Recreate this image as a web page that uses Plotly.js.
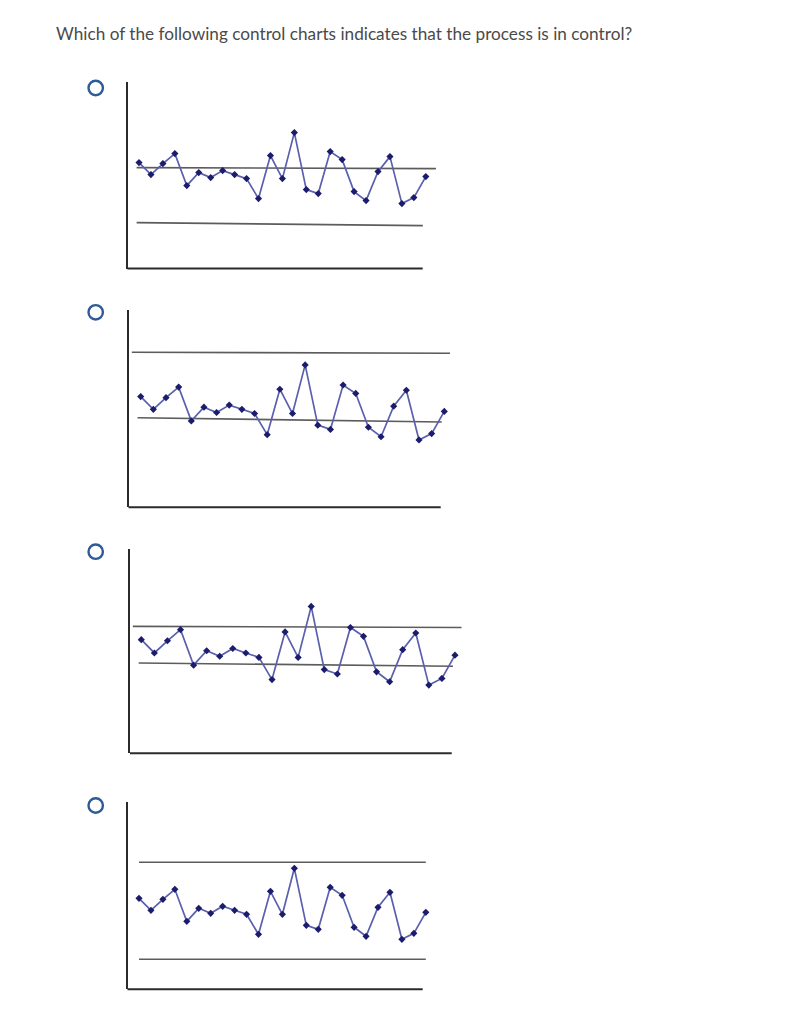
<!DOCTYPE html>
<html>
<head>
<meta charset="utf-8">
<script src="https://cdn.plot.ly/plotly-3.0.1.min.js"></script>
<style>
  html, body { margin: 0; padding: 0; background: #fff; }
  #plot { width: 806px; height: 1024px; }
</style>
</head>
<body>
<div id="plot"></div>
<script>
// question text
var questionText = 'Which of the following control charts indicates that the process is in control?';

// same sample series is used in all four charts
var samples = [1, 2, 3, 4, 5, 6, 7, 8, 9, 10, 11, 12, 13, 14, 15, 16, 17, 18, 19, 20, 21, 22, 23, 24, 25];
var values = [91, 79, 90, 100, 68, 81, 76, 83, 79, 75, 55, 98, 75, 121, 64, 60, 102, 94, 62, 53, 82, 97, 50, 56, 77];

// control lines for each option: [value at start, value at end] and [x start, x end]
var limitsA = [[86, 85], [31, 28]];
var limitsAx = [[0.8, 25.85], [0.8, 24.75]];
var limitsB = [[133, 132], [71, 67]];
var limitsBx = [[0.3, 25.45], [0.75, 24.8]];
var limitsC = [[103, 102], [70, 67]];
var limitsCx = [[0.35, 25.5], [0.8, 24.85]];
var limitsD = [[127, 127], [30, 30]];
var limitsDx = [[1, 25], [1, 25]];

// page geometry of each little chart, in pixels
var W = 806, H = 1024;
var boxes = [
  {left: 127.5, top: 82, bottom: 268.5, axisEnd: 422.7, right: 440, p1x: 139, dx: 11.95, base: 253.6, s: 1.0, radioY: 88},
  {left: 128.5, top: 309.5, bottom: 507.3, axisEnd: 440.7, right: 454, p1x: 140.7, dx: 12.65, base: 492.8, s: 1.057, radioY: 312.3},
  {left: 130, top: 549, bottom: 753.3, axisEnd: 451.7, right: 466, p1x: 141.3, dx: 13.07, base: 740.5, s: 1.108, radioY: 551.7},
  {left: 127.5, top: 801.7, bottom: 989.3, axisEnd: 422.7, right: 440, p1x: 139, dx: 11.95, base: 989.3, s: 1.0, radioY: 805.5}
];
var allLimits = [limitsA, limitsB, limitsC, limitsD];
var allLimitsX = [limitsAx, limitsBx, limitsCx, limitsDx];

var traces = [];
var layout = {
  width: W,
  height: H,
  margin: {l: 0, r: 0, t: 0, b: 0},
  paper_bgcolor: '#ffffff',
  plot_bgcolor: 'rgba(0,0,0,0)',
  showlegend: false,
  hovermode: false,
  shapes: [],
  annotations: [{
    text: questionText,
    xref: 'paper', yref: 'paper',
    x: 54 / W, y: 1 - 33 / H,
    xanchor: 'left', yanchor: 'middle',
    showarrow: false,
    font: {family: 'Lato, "Open Sans", sans-serif', size: 17.2, color: '#4a4a4a'}
  }]
};

boxes.forEach(function (b, i) {
  var n = i === 0 ? '' : String(i + 1);
  var xa = 'x' + n, ya = 'y' + n;

  // the control lines
  allLimits[i].forEach(function (lim, j) {
    traces.push({
      x: allLimitsX[i][j],
      y: lim,
      xaxis: xa, yaxis: ya,
      type: 'scatter',
      mode: 'lines',
      line: {color: '#5c5c5c', width: 1.6},
      hoverinfo: 'skip'
    });
  });

  // the sample points
  traces.push({
    x: samples,
    y: values,
    xaxis: xa, yaxis: ya,
    type: 'scatter',
    mode: 'lines+markers',
    cliponaxis: false,
    line: {color: '#5a5fae', width: 1.7},
    marker: {symbol: 'diamond', size: 5.5, color: '#1c1c6c'}
  });

  layout['xaxis' + n] = {
    domain: [b.left / W, b.right / W],
    range: [1 + (b.left - b.p1x) / b.dx, 1 + (b.right - b.p1x) / b.dx],
    anchor: ya,
    showgrid: false, zeroline: false, showticklabels: false, ticks: '',
    showline: false, fixedrange: true
  };
  layout['yaxis' + n] = {
    domain: [1 - b.bottom / H, 1 - b.top / H],
    range: [(b.base - b.bottom) / b.s, (b.base - b.top) / b.s],
    anchor: xa,
    showgrid: false, zeroline: false, showticklabels: false, ticks: '',
    showline: true, linecolor: '#2b2b2b', linewidth: 2, fixedrange: true
  };

  // bottom axis line, shorter than the plot area
  layout.shapes.push({
    type: 'line',
    xref: xa + ' domain', yref: ya + ' domain',
    x0: 0, x1: (b.axisEnd - b.left) / (b.right - b.left),
    y0: 0, y1: 0,
    line: {color: '#2b2b2b', width: 2}
  });

  // the radio button next to the option
  var r = 7.2;
  layout.shapes.push({
    type: 'circle',
    xref: 'paper', yref: 'paper',
    x0: (95.7 - r) / W, x1: (95.7 + r) / W,
    y0: 1 - (b.radioY + r) / H, y1: 1 - (b.radioY - r) / H,
    line: {color: '#2d5b95', width: 2.4}
  });
});

Plotly.newPlot('plot', traces, layout, {staticPlot: true, displayModeBar: false});
</script>
</body>
</html>
